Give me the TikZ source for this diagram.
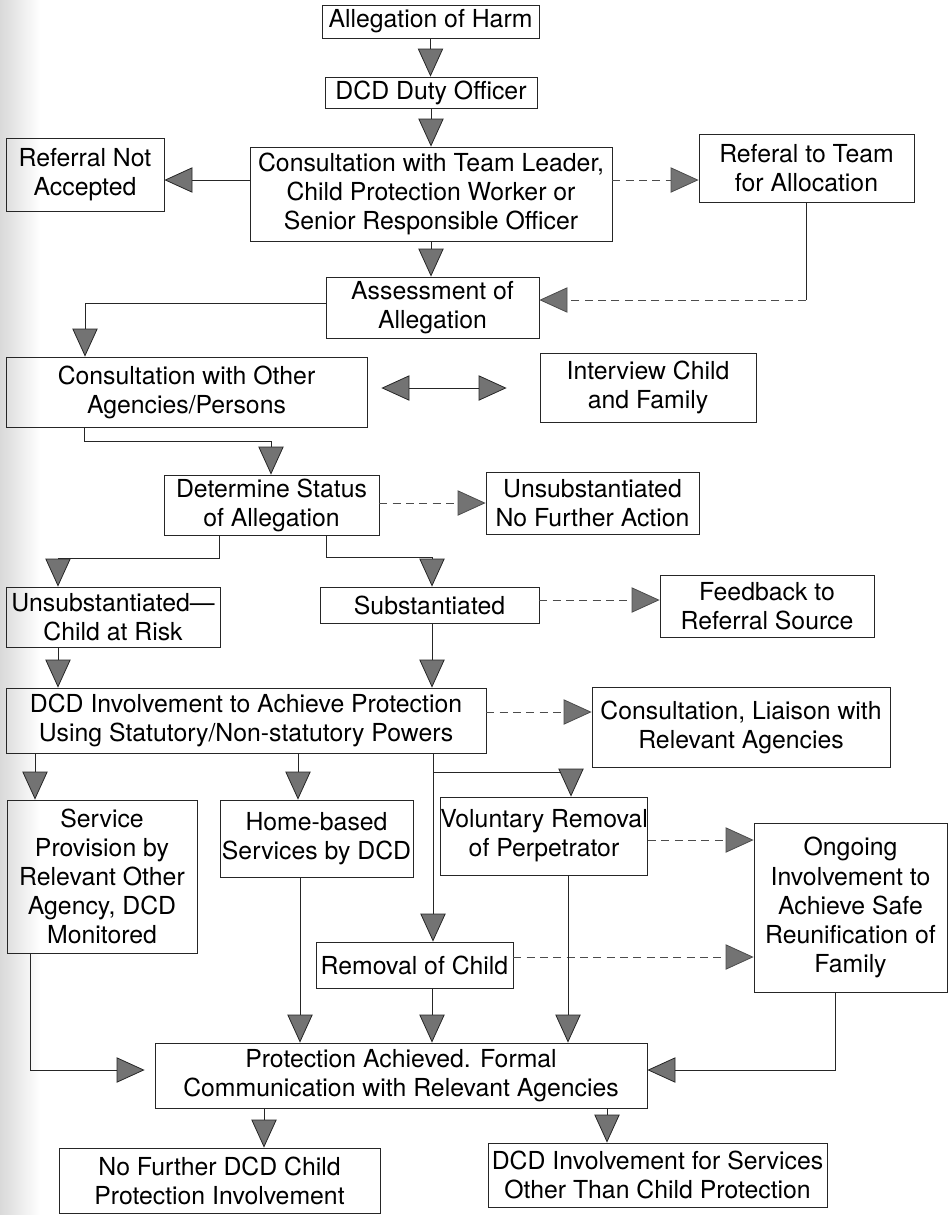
\documentclass[tikz,border=0pt]{standalone}
\usepackage{fontspec}
\setmainfont{TeX Gyre Heros}
\usetikzlibrary{arrows.meta,calc}
\begin{document}
\begin{tikzpicture}[x=0.75pt,y=-0.75pt,
  box/.style={draw=black!85,line width=0.6pt,inner sep=0pt,align=center,
    font=\fontsize{18.6}{21.8}\selectfont},
  wh/.style 2 args={minimum width=#1*0.75pt,minimum height=#2*0.75pt},
  conn/.style={draw=black!85,line width=0.6pt},
  arr/.style={conn,-{Triangle[width=19pt,length=21pt,fill=black!55,line width=0.6pt]}},
  darr/.style={conn,{Triangle[width=19pt,length=21pt,fill=black!55,line width=0.6pt]}-{Triangle[width=19pt,length=21pt,fill=black!55,line width=0.6pt]}},
  faint/.style={draw=black!70,dash pattern=on 6pt off 4pt}
]
\useasboundingbox (0,0) rectangle (950,1215);
\shade[left color=gray!30,right color=white] (0,0) rectangle (40,1215);

% nodes
\node[box,wh={217}{33}] (harm) at (430.5,21.5) {Allegation of Harm};
\node[box,wh={212}{31}] (duty) at (431,92.5) {DCD Duty Officer};
\node[box,wh={362}{94}] (consult) at (431,194) {Consultation with Team Leader,\\Child Protection Worker or\\Senior Responsible Officer};
\node[box,wh={158}{73}] (notacc) at (85,174.5) {Referral Not\\Accepted};
\node[box,wh={215}{68}] (referal) at (806.5,168) {Referal to Team\\for Allocation};
\node[box,wh={213}{61}] (assess) at (432.5,307.5) {Assessment of\\Allegation};
\node[box,wh={361}{70}] (other) at (186.5,392) {Consultation with Other\\Agencies/Persons};
\node[box,wh={216}{69}] (interview) at (648,387.5) {Interview Child\\and Family};
\node[box,wh={215}{60}] (determine) at (271.5,505) {Determine Status\\of Allegation};
\node[box,wh={213}{62}] (nfa) at (592.5,503) {Unsubstantiated\\No Further Action};
\node[box,wh={214}{60}] (risk) at (113,617) {Unsubstantiated—\\Child at Risk};
\node[box,wh={219}{36}] (subst) at (429.5,605) {Substantiated};
\node[box,wh={214}{62}] (feedback) at (767,606) {Feedback to\\Referral Source};
\node[box,wh={480}{65}] (dcdinv) at (246,720.5) {DCD Involvement to Achieve Protection\\Using Statutory/Non-statutory Powers};
\node[box,wh={298}{80}] (liaison) at (741,727) {Consultation, Liaison with\\Relevant Agencies};
\node[box,wh={190}{153}] (service) at (102,876.5) {Service\\Provision by\\Relevant Other\\Agency, DCD\\Monitored};
\node[box,wh={193}{77}] (home) at (316.5,838.5) {Home-based\\Services by DCD};
\node[box,wh={200}{78}] (vol) at (544,836) {Voluntary Removal\\of Perpetrator};
\node[box,wh={197}{46}] (removal) at (414.5,965) {Removal of Child};
\node[box,wh={193}{169}] (ongoing) at (850.5,907.5) {Ongoing\\Involvement to\\Achieve Safe\\Reunification of\\Family};
\node[box,wh={492}{65}] (protect) at (401,1075.5) {Protection Achieved. Formal\\Communication with Relevant Agencies};
\node[box,wh={321}{65}] (nofurther) at (219.5,1180.5) {No Further DCD Child\\Protection Involvement};
\node[box,wh={339}{64}] (otherserv) at (657.5,1175) {DCD Involvement for Services\\Other Than Child Protection};

% connectors
\draw[arr] (harm.south) -- (harm.south |- duty.north);
\draw[arr] (duty.south) -- (duty.south |- consult.north);
\draw[arr] (consult.west |- 0,180) -- (notacc.east |- 0,180);
\draw[arr,faint] (consult.east |- 0,180) -- (referal.west |- 0,180);
\draw[arr] (consult.south) -- (consult.south |- assess.north);
\draw[conn] (referal.south -| 806,0) -- (806,300) coordinate (r1);
\draw[arr,faint] (r1) -- (assess.east |- r1);
\draw[arr] (assess.west |- 0,303) -- (85,303) -- (other.north -| 85,0);
\draw[darr,shorten <=10.5pt,shorten >=24.75pt] (other.east |- 0,388) -- (interview.west |- 0,388);
\draw[arr] (other.south -| 84,0) -- (84,441) -- (271,441) -- (determine.north -| 271,0);
\draw[arr,faint] (determine.east |- 0,503) -- (nfa.west |- 0,503);
\draw[arr] (determine.south -| 219,0) -- (219,558) -- (58,558) -- (risk.north -| 58,0);
\draw[arr] (determine.south -| 326,0) -- (326,557) -- (432,557) -- (subst.north -| 432,0);
\draw[arr,faint] (subst.east |- 0,600) -- (feedback.west |- 0,600);
\draw[arr] (risk.south -| 58,0) -- (dcdinv.north -| 58,0);
\draw[arr] (subst.south -| 432,0) -- (dcdinv.north -| 432,0);
\draw[arr,faint] (dcdinv.east |- 0,712) -- (liaison.west |- 0,712);
\draw[arr] (dcdinv.south -| 35,0) -- (service.north -| 35,0);
\draw[arr] (dcdinv.south -| 298,0) -- (home.north -| 298,0);
\draw[arr] (dcdinv.south -| 433,0) -- (removal.north -| 433,0);
\draw[arr] (dcdinv.south -| 433,0) -- (433,772) -- (571,772) -- (vol.north -| 571,0);
\draw[arr,faint] (vol.east |- 0,840) -- (ongoing.west |- 0,840);
\draw[arr,faint] (removal.east |- 0,957) -- (ongoing.west |- 0,957);
\draw[arr,shorten >=7.5pt] (service.south -| 30,0) -- (30,1070) -- (protect.west |- 0,1070);
\draw[arr] (home.south -| 300,0) -- (protect.north -| 300,0);
\draw[arr] (removal.south -| 432,0) -- (protect.north -| 432,0);
\draw[arr] (vol.south -| 568,0) -- (protect.north -| 568,0);
\draw[arr] (ongoing.south -| 835,0) -- (835,1070) -- (protect.east |- 0,1070);
\draw[arr] (protect.south -| 264,0) -- (nofurther.north -| 264,0);
\draw[arr] (protect.south -| 607,0) -- (otherserv.north -| 607,0);
\end{tikzpicture}
\end{document}
